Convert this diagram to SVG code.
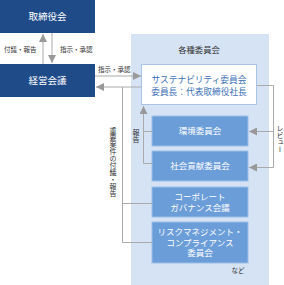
<svg xmlns="http://www.w3.org/2000/svg" width="284" height="285" viewBox="0 0 284 285">
<style>
text{font-family:"Noto Sans CJK JP","Noto Sans",sans-serif;}
.dark{fill:#1f4c89;}
.dt{fill:#ffffff;font-size:9.5px;text-anchor:middle;}
.lbl{fill:#333333;font-size:6.5px;}
.med{fill:#6b9dd8;stroke:#9dbfe7;stroke-width:1;}
.mt{fill:#ffffff;font-size:8.5px;text-anchor:middle;}
.st{fill:#3b6fb5;font-size:8.7px;text-anchor:middle;}
.ln{fill:none;stroke:#aaaaaa;stroke-width:1;}
.vt{font-size:7px;fill:#333333;writing-mode:vertical-rl;text-orientation:upright;}
</style>
<defs>
<marker id="ah" viewBox="0 0 8 8" refX="8" refY="4" markerWidth="8" markerHeight="8" markerUnits="userSpaceOnUse" orient="auto">
<path d="M0,0 L8,4 L0,8 Z" fill="#999999"/>
</marker>
</defs>
<g id="panel">
<rect x="131" y="34" width="138" height="251" fill="#d5e3f4"/>
<text x="199" y="53" text-anchor="middle" font-size="8.3" fill="#333333">各種委員会</text>
<text x="238" y="273" text-anchor="middle" font-size="6.5" fill="#333333">など</text>
</g>
<g id="board">
<rect class="dark" x="0" y="0" width="95" height="33"/>
<text class="dt" x="47.5" y="20">取締役会</text>
</g>
<g id="mgmt">
<rect class="dark" x="0" y="64" width="95" height="33"/>
<text class="dt" x="47.5" y="84">経営会議</text>
</g>
<g id="sustain">
<rect x="141.5" y="64.5" width="115" height="40" fill="#ffffff" stroke="#a8c3e6" stroke-width="1"/>
<text class="st" x="199" y="83">サステナビリティ委員会</text>
<text class="st" x="199" y="95">委員長：代表取締役社長</text>
</g>
<g id="env">
<rect class="med" x="152" y="116" width="96" height="30"/>
<text class="mt" x="200" y="134">環境委員会</text>
</g>
<g id="social">
<rect class="med" x="152" y="151" width="96" height="30"/>
<text class="mt" x="200" y="169">社会貢献委員会</text>
</g>
<g id="governance">
<rect class="med" x="152" y="187" width="96" height="30"/>
<text class="mt" x="200" y="200"><tspan x="200">コーポレート</tspan><tspan x="200" dy="10.5">ガバナンス会議</tspan></text>
</g>
<g id="risk">
<rect class="med" x="152" y="222" width="96" height="41"/>
<text class="mt" x="200" y="235"><tspan x="200">リスクマネジメント・</tspan><tspan x="200" dy="10.5">コンプライアンス</tspan><tspan x="200" dy="10.5">委員会</tspan></text>
</g>
<g id="connectors">
<line class="ln" x1="43" y1="64" x2="43" y2="34" marker-end="url(#ah)"/>
<line class="ln" x1="52" y1="33" x2="52" y2="63" marker-end="url(#ah)"/>
<text class="lbl" x="4" y="52">付議・報告</text>
<text class="lbl" x="60" y="52">指示・承認</text>
<line class="ln" x1="95" y1="76" x2="141" y2="76" marker-end="url(#ah)"/>
<text class="lbl" x="98" y="72">指示・承認</text>
<line class="ln" x1="141" y1="87" x2="96" y2="87" marker-end="url(#ah)"/>
<path class="ln" d="M122.5,87 V242.5 H152 M122.5,203.5 H152"/>
<text class="vt" x="113" y="127">重要案件の付議・報告</text>
<path class="ln" d="M152,163.5 H143.5 V106" marker-end="url(#ah)"/>
<path class="ln" d="M143.5,131.5 H152"/>
<text class="vt" x="136" y="129">報告</text>
<path class="ln" d="M257,85.5 H273.5 V167.5 H249" marker-end="url(#ah)"/>
<line class="ln" x1="273.5" y1="131.5" x2="249" y2="131.5" marker-end="url(#ah)"/>
<text class="vt" x="280" y="125">レビュー</text>
</g>
</svg>
